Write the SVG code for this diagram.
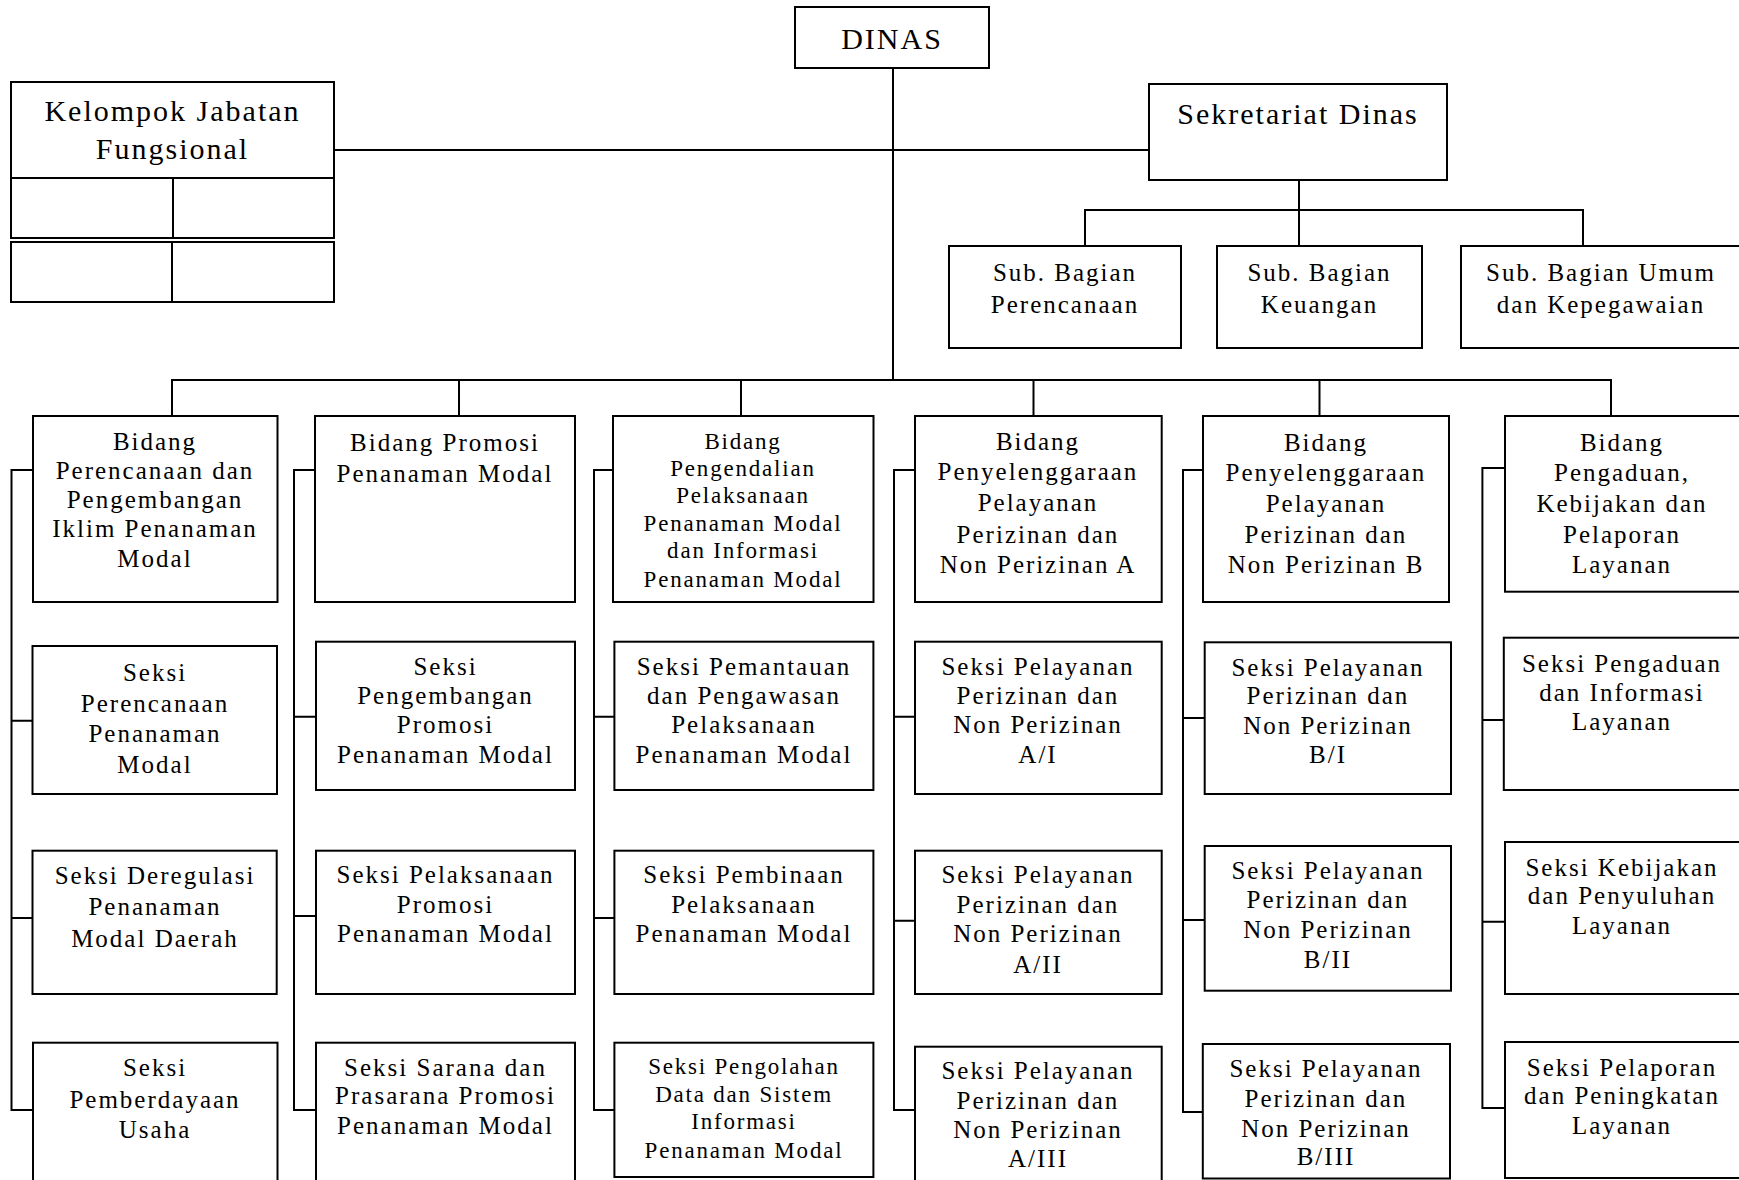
<svg xmlns="http://www.w3.org/2000/svg" width="1739" height="1180" viewBox="0 0 1739 1180">
<style>
.box{fill:#fff;stroke:#000;stroke-width:2}
.ln{fill:none;stroke:#000;stroke-width:2}
text{font-family:"Liberation Serif","Times New Roman",Times,serif;font-size:25px;letter-spacing:2px;text-anchor:middle;fill:#000}
.big{font-size:30px}
.sm{font-size:23px;letter-spacing:1.8px}
</style>
<rect width="1739" height="1180" fill="#fff"/>
<g id="connectors" class="ln">
<path d="M893 68V380M334 150H1149M1299 180V246M1085 246V210H1583V246M172 416V380H1611V416M459 380V416M741 380V416M1033.5 380V416M1319.5 380V416"/>
<path d="M33 470H11.5V1110H33M11.5 720.7H33M11.5 918H33"/>
<path d="M315 470H294V1110H316M294 716.7H316M294 916H316"/>
<path d="M613 470H594V1110H614M594 716.7H614M594 918H614"/>
<path d="M915 470H894V1110H915M894 716.7H915M894 920.7H915"/>
<path d="M1203 470H1183V1112H1203M1183 718H1205M1183 920H1205"/>
<path d="M1505 468H1482.4V1108H1505M1482.4 720H1504M1482.4 921.7H1505"/>
</g>
<g font-family="Liberation Serif, Times New Roman, serif">
<g id="dinas"><rect class="box" x="795" y="7" width="194" height="61"/><text class="big" x="892" y="49.3">DINAS</text></g>
<g id="kelompok">
<rect class="box" x="11" y="82" width="323" height="96"/>
<rect class="box" x="11" y="178" width="162" height="60"/><rect class="box" x="173" y="178" width="161" height="60"/>
<rect class="box" x="11" y="242" width="161" height="60"/><rect class="box" x="172" y="242" width="162" height="60"/>
<text class="big"><tspan x="172.5" y="120.7">Kelompok Jabatan</tspan><tspan x="172.5" y="159">Fungsional</tspan></text>
</g>
<g id="sekretariat"><rect class="box" x="1149" y="84" width="298" height="96"/><text class="big" x="1298" y="124">Sekretariat Dinas</text></g>
<g id="sub-perencanaan"><rect class="box" x="949" y="246" width="232" height="102"/><text><tspan x="1065" y="281">Sub. Bagian</tspan><tspan x="1065" y="312.7">Perencanaan</tspan></text></g>
<g id="sub-keuangan"><rect class="box" x="1217" y="246" width="205" height="102"/><text><tspan x="1319.5" y="281">Sub. Bagian</tspan><tspan x="1319.5" y="312.7">Keuangan</tspan></text></g>
<g id="sub-umum"><rect class="box" x="1461" y="246" width="280" height="102"/><text><tspan x="1601" y="281">Sub. Bagian Umum</tspan><tspan x="1601" y="312.7">dan Kepegawaian</tspan></text></g>

<g id="bidang-perencanaan"><rect class="box" x="33" y="416" width="244.5" height="186"/><text><tspan x="155" y="450">Bidang</tspan><tspan x="155" y="479">Perencanaan dan</tspan><tspan x="155" y="507.7">Pengembangan</tspan><tspan x="155" y="536.7">Iklim Penanaman</tspan><tspan x="155" y="566.7">Modal</tspan></text></g>
<g id="bidang-promosi"><rect class="box" x="315" y="416" width="260" height="186"/><text><tspan x="445" y="451">Bidang Promosi</tspan><tspan x="445" y="482">Penanaman Modal</tspan></text></g>
<g id="bidang-pengendalian"><rect class="box" x="613" y="416" width="260.5" height="186"/><text class="sm"><tspan x="743" y="449">Bidang</tspan><tspan x="743" y="476">Pengendalian</tspan><tspan x="743" y="503.3">Pelaksanaan</tspan><tspan x="743" y="531.3">Penanaman Modal</tspan><tspan x="743" y="558.3">dan Informasi</tspan><tspan x="743" y="586.7">Penanaman Modal</tspan></text></g>
<g id="bidang-a"><rect class="box" x="915" y="416" width="246.7" height="186"/><text><tspan x="1038" y="450">Bidang</tspan><tspan x="1038" y="480">Penyelenggaraan</tspan><tspan x="1038" y="510.7">Pelayanan</tspan><tspan x="1038" y="542.7">Perizinan dan</tspan><tspan x="1038" y="573.3">Non Perizinan A</tspan></text></g>
<g id="bidang-b"><rect class="box" x="1203" y="416" width="246" height="186"/><text><tspan x="1326" y="450.7">Bidang</tspan><tspan x="1326" y="480.7">Penyelenggaraan</tspan><tspan x="1326" y="511.7">Pelayanan</tspan><tspan x="1326" y="542.7">Perizinan dan</tspan><tspan x="1326" y="573.3">Non Perizinan B</tspan></text></g>
<g id="bidang-pengaduan"><rect class="box" x="1505" y="416" width="236" height="175.7"/><text><tspan x="1622" y="450.7">Bidang</tspan><tspan x="1622" y="480.7">Pengaduan,</tspan><tspan x="1622" y="511.7">Kebijakan dan</tspan><tspan x="1622" y="542.7">Pelaporan</tspan><tspan x="1622" y="573.3">Layanan</tspan></text></g>

<g id="seksi-perencanaan"><rect class="box" x="32.5" y="646" width="244.5" height="148"/><text><tspan x="155" y="681">Seksi</tspan><tspan x="155" y="711.7">Perencanaan</tspan><tspan x="155" y="742.3">Penanaman</tspan><tspan x="155" y="773.3">Modal</tspan></text></g>
<g id="seksi-pengembangan"><rect class="box" x="316" y="641.7" width="259" height="148.3"/><text><tspan x="445.5" y="675">Seksi</tspan><tspan x="445.5" y="704.3">Pengembangan</tspan><tspan x="445.5" y="732.7">Promosi</tspan><tspan x="445.5" y="763.3">Penanaman Modal</tspan></text></g>
<g id="seksi-pemantauan"><rect class="box" x="614.4" y="641.7" width="259" height="148.3"/><text><tspan x="744" y="675">Seksi Pemantauan</tspan><tspan x="744" y="704.3">dan Pengawasan</tspan><tspan x="744" y="733.3">Pelaksanaan</tspan><tspan x="744" y="763.3">Penanaman Modal</tspan></text></g>
<g id="seksi-a1"><rect class="box" x="915" y="641.7" width="246.7" height="152.3"/><text><tspan x="1038" y="675">Seksi Pelayanan</tspan><tspan x="1038" y="704.3">Perizinan dan</tspan><tspan x="1038" y="733.3">Non Perizinan</tspan><tspan x="1038" y="762.7">A/I</tspan></text></g>
<g id="seksi-b1"><rect class="box" x="1204.7" y="642.3" width="246.3" height="151.7"/><text><tspan x="1328" y="676">Seksi Pelayanan</tspan><tspan x="1328" y="704.3">Perizinan dan</tspan><tspan x="1328" y="734">Non Perizinan</tspan><tspan x="1328" y="763.3">B/I</tspan></text></g>
<g id="seksi-pengaduan"><rect class="box" x="1503.8" y="637.7" width="237" height="152.3"/><text><tspan x="1622" y="671.7">Seksi Pengaduan</tspan><tspan x="1622" y="700.7">dan Informasi</tspan><tspan x="1622" y="730">Layanan</tspan></text></g>

<g id="seksi-deregulasi"><rect class="box" x="32.5" y="850.7" width="244.2" height="143.3"/><text><tspan x="155" y="884.3">Seksi Deregulasi</tspan><tspan x="155" y="915">Penanaman</tspan><tspan x="155" y="947.3">Modal Daerah</tspan></text></g>
<g id="seksi-pelaksanaan-promosi"><rect class="box" x="316" y="850.7" width="259" height="143.3"/><text><tspan x="445.5" y="883.3">Seksi Pelaksanaan</tspan><tspan x="445.5" y="912.7">Promosi</tspan><tspan x="445.5" y="942.3">Penanaman Modal</tspan></text></g>
<g id="seksi-pembinaan"><rect class="box" x="614.4" y="850.7" width="259" height="143.3"/><text><tspan x="744" y="883.3">Seksi Pembinaan</tspan><tspan x="744" y="912.7">Pelaksanaan</tspan><tspan x="744" y="942.3">Penanaman Modal</tspan></text></g>
<g id="seksi-a2"><rect class="box" x="915" y="850.7" width="246.7" height="143.3"/><text><tspan x="1038" y="883.3">Seksi Pelayanan</tspan><tspan x="1038" y="912.7">Perizinan dan</tspan><tspan x="1038" y="942.3">Non Perizinan</tspan><tspan x="1038" y="972.7">A/II</tspan></text></g>
<g id="seksi-b2"><rect class="box" x="1204.7" y="846" width="246.3" height="144.7"/><text><tspan x="1328" y="879.3">Seksi Pelayanan</tspan><tspan x="1328" y="908.3">Perizinan dan</tspan><tspan x="1328" y="938.3">Non Perizinan</tspan><tspan x="1328" y="967.7">B/II</tspan></text></g>
<g id="seksi-kebijakan"><rect class="box" x="1505" y="842" width="236" height="152"/><text><tspan x="1622" y="876">Seksi Kebijakan</tspan><tspan x="1622" y="904.3">dan Penyuluhan</tspan><tspan x="1622" y="934">Layanan</tspan></text></g>

<g id="seksi-pemberdayaan"><rect class="box" x="33" y="1042.7" width="244.5" height="150"/><text><tspan x="155" y="1076">Seksi</tspan><tspan x="155" y="1107.7">Pemberdayaan</tspan><tspan x="155" y="1137.7">Usaha</tspan></text></g>
<g id="seksi-sarana"><rect class="box" x="316" y="1042.7" width="259" height="150"/><text><tspan x="445.5" y="1075.7">Seksi Sarana dan</tspan><tspan x="445.5" y="1104.3">Prasarana Promosi</tspan><tspan x="445.5" y="1134">Penanaman Modal</tspan></text></g>
<g id="seksi-pengolahan"><rect class="box" x="614.4" y="1042.7" width="259" height="134.3"/><text class="sm"><tspan x="744" y="1074.3">Seksi Pengolahan</tspan><tspan x="744" y="1102.3">Data dan Sistem</tspan><tspan x="744" y="1129.3">Informasi</tspan><tspan x="744" y="1158.3">Penanaman Modal</tspan></text></g>
<g id="seksi-a3"><rect class="box" x="915" y="1046.7" width="246.7" height="150"/><text><tspan x="1038" y="1079.3">Seksi Pelayanan</tspan><tspan x="1038" y="1109">Perizinan dan</tspan><tspan x="1038" y="1138.3">Non Perizinan</tspan><tspan x="1038" y="1167.3">A/III</tspan></text></g>
<g id="seksi-b3"><rect class="box" x="1202.8" y="1044" width="247.2" height="134.5"/><text><tspan x="1326" y="1076.7">Seksi Pelayanan</tspan><tspan x="1326" y="1106.7">Perizinan dan</tspan><tspan x="1326" y="1136.7">Non Perizinan</tspan><tspan x="1326" y="1165">B/III</tspan></text></g>
<g id="seksi-pelaporan"><rect class="box" x="1505" y="1042" width="236" height="136"/><text><tspan x="1622" y="1076">Seksi Pelaporan</tspan><tspan x="1622" y="1104.3">dan Peningkatan</tspan><tspan x="1622" y="1134">Layanan</tspan></text></g>
</g>
</svg>
